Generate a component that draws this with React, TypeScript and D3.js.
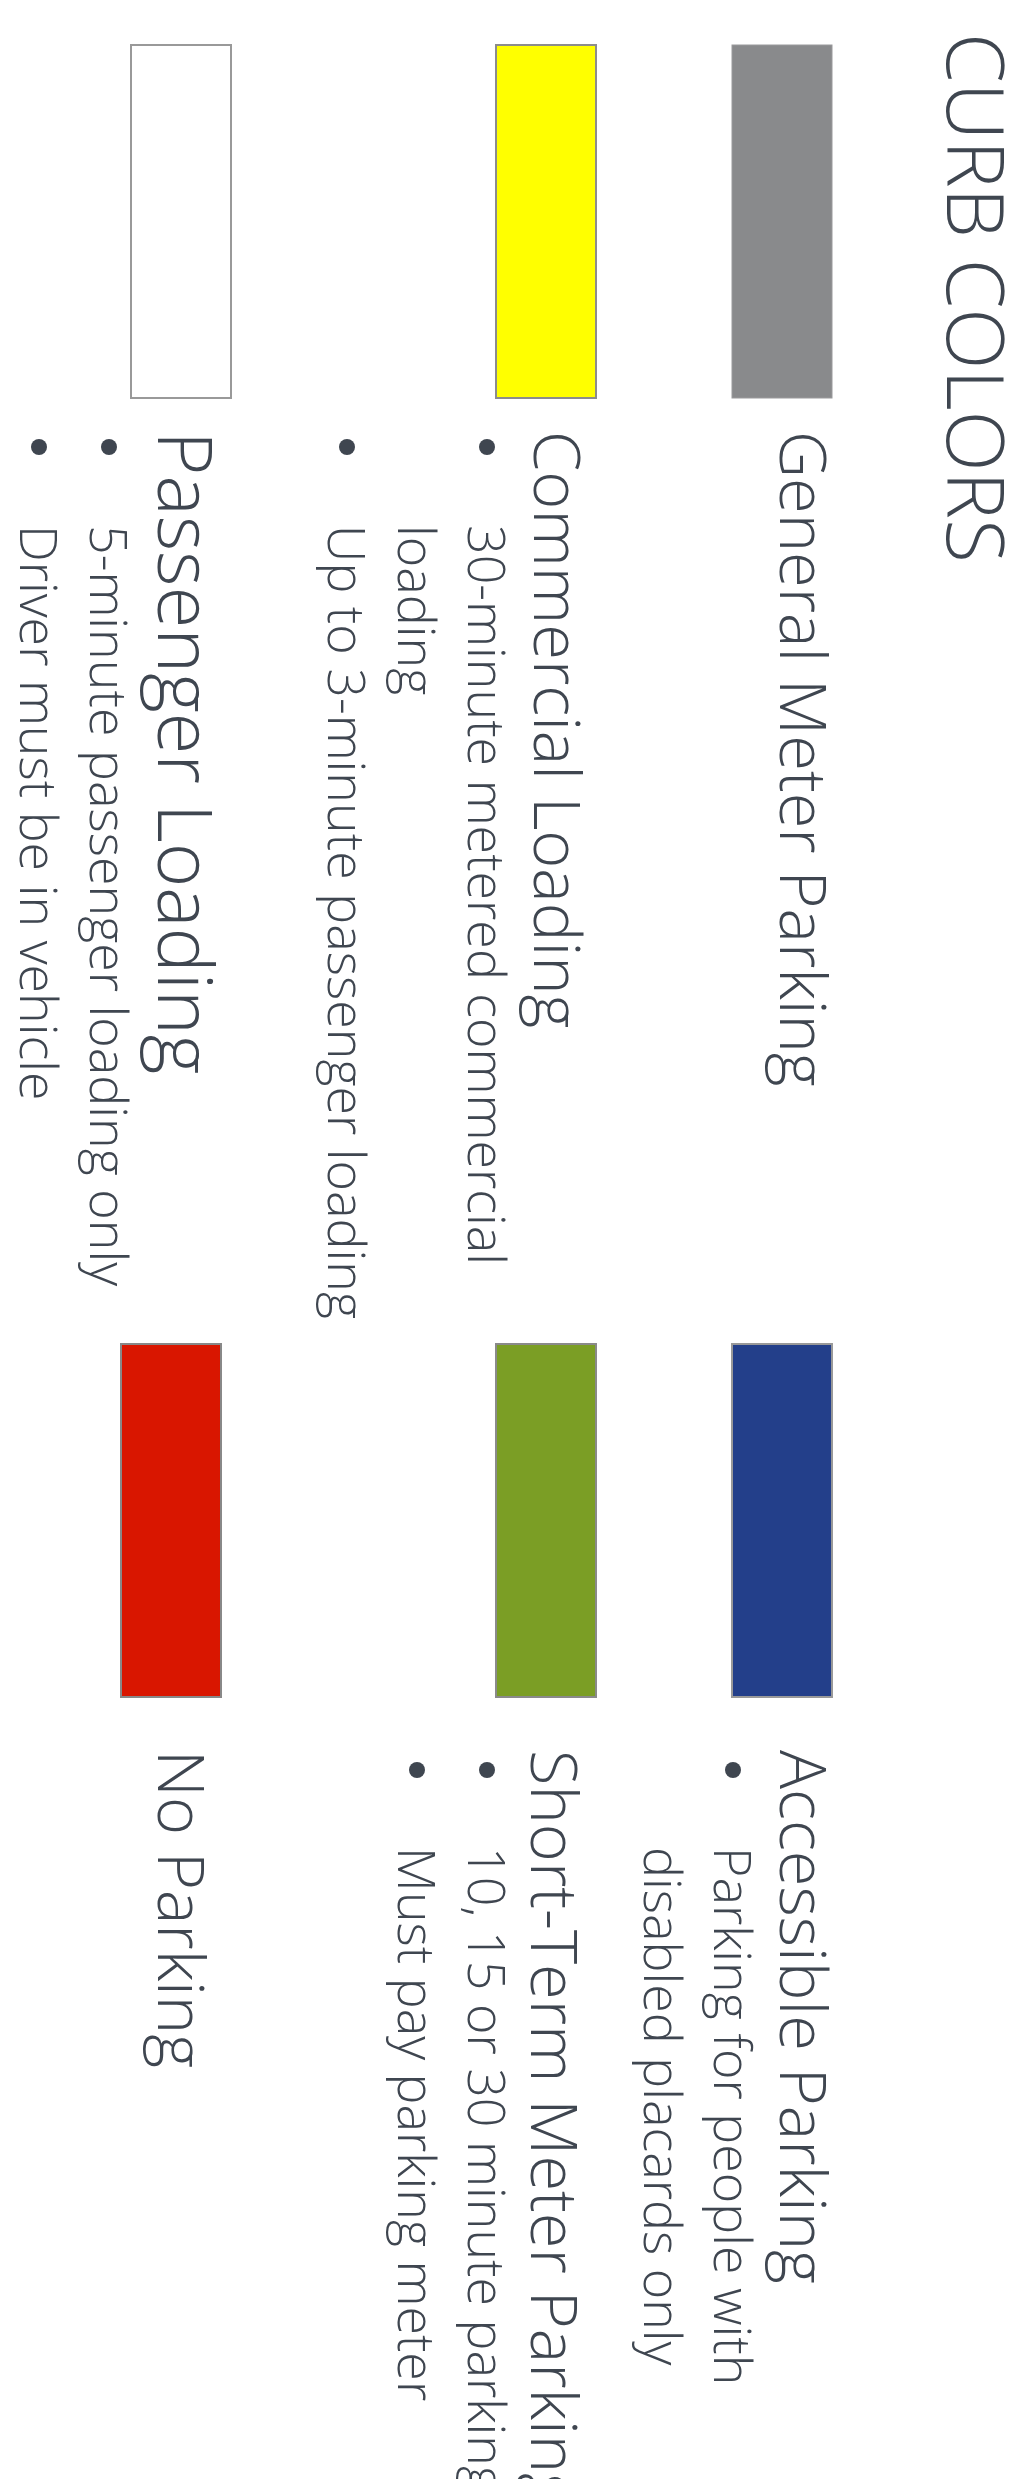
import React from "react";
import * as d3 from "d3";

// ---- data ----
const title = "CURB COLORS";
const headings = [
  "General Meter Parking",
  "Commercial Loading",
  "Passenger Loading",
  "Accessible Parking",
  "Short-Term Meter Parking",
  "No Parking",
];
const swatchColors = ["#898A8C", "#FFFF00", "#FFFFFF", "#233F8A", "#7B9E25", "#D91600"];
const swatchStrokes = ["#9a9a9c", "#8c8c8c", "#999999", "#999999", "#8a8a8a", "#888888"];
// each item: list of bullets, each bullet: list of wrapped lines
const bullets: string[][][] = [
  [],
  [["30-minute metered commercial", "loading"], ["Up to 3-minute passenger loading"]],
  [["5-minute passenger loading only"], ["Driver must be in vehicle"]],
  [["Parking for people with", "disabled placards only"]],
  [["10, 15 or 30 minute parking"], ["Must pay parking meter"]],
  [],
];
const columnOf = [0, 0, 0, 1, 1, 1];
const rowOf = [0, 1, 2, 0, 1, 2];
const headingLarge = [false, false, true, false, false, false];

// ---- layout ----
const W = 1034;
const H = 2479;
const TEXT = "#3F4650";
const FONT = '"Segoe UI Light", "Segoe UI", "Open Sans", sans-serif';

export default function App() {
  // slide coordinates: u along reading direction (page down), v across (page leftwards)
  const colSwatch = d3.scaleOrdinal<number, number>().domain([0, 1]).range([45, 1344]);
  const colHeading = d3.scaleOrdinal<number, number>().domain([0, 1]).range([431, 1750]);
  const colBullet = d3.scaleOrdinal<number, number>().domain([0, 1]).range([447, 1770]);
  const colText = d3.scaleOrdinal<number, number>().domain([0, 1]).range([525, 1847]);
  const swatchLen = 353;
  const swatchTop = d3.scaleOrdinal<number, number>().domain([0, 1, 2]).range([202, 438, 803]);
  const swatchW = 100;
  const headBase = d3.scaleOrdinal<number, number>().domain([0, 1, 2]).range([254, 500, 876]);
  const lineGap = 70;

  const items = headings.map((h, i) => {
    const c = columnOf[i];
    const r = rowOf[i];
    const lines: { text: string; base: number; first: boolean }[] = [];
    let base = headBase(r) + (headingLarge[i] ? 68 : 66);
    bullets[i].forEach((b) => {
      b.forEach((t, k) => {
        lines.push({ text: t, base, first: k === 0 });
        base += lineGap;
      });
    });
    return { h, i, c, r, lines };
  });

  return (
    <svg
      width={W}
      height={H}
      style={{ position: "absolute", left: 0, top: 0, display: "block", background: "#fff" }}
    >
      <rect x={0} y={0} width={W} height={H} fill="#ffffff" />
      <g transform={`translate(${W},0) rotate(90)`} fontFamily={FONT} fill={TEXT} fontWeight={300}>
        <text x={33} y={87} fontSize={80}>
          {title}
        </text>
        {items.map((it) => (
          <g key={it.h}>
            <rect
              x={colSwatch(it.c)}
              y={swatchTop(it.r) + (it.c === 1 && it.r === 2 ? 10 : 0)}
              width={swatchLen}
              height={swatchW}
              fill={swatchColors[it.i]}
              stroke={swatchStrokes[it.i]}
              strokeWidth={it.i === 0 ? 1 : 2}
            />
            <text
              x={colHeading(it.c)}
              y={headBase(it.r) + (it.c === 1 && it.r === 1 ? 3 : 0)}
              fontSize={headingLarge[it.i] ? 76 : 65}
            >
              {it.h}
            </text>
            {it.lines.map((ln, k) => (
              <g key={k}>
                {ln.first && <circle cx={colBullet(it.c)} cy={ln.base - 19} r={8} fill={TEXT} />}
                <text x={colText(it.c)} y={ln.base} fontSize={52}>
                  {ln.text}
                </text>
              </g>
            ))}
          </g>
        ))}
      </g>
    </svg>
  );
}
